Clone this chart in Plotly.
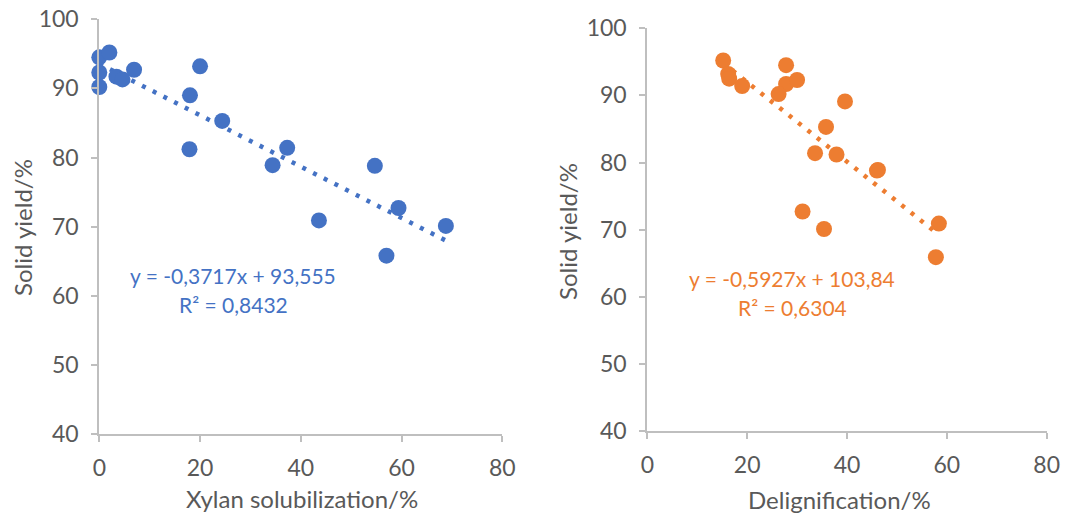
import numpy as np
import plotly.graph_objects as go

# Left panel: xylan solubilization vs solid yield
xylan_x = [0, 0, 0, 2.0, 3.4, 4.6, 6.9, 20.0, 18.0, 17.9, 24.4, 37.3, 34.4, 43.6, 54.7, 59.4, 57.0, 68.8]
xylan_y = [94.5, 92.3, 90.2, 95.2, 91.7, 91.3, 92.7, 93.2, 89.0, 81.2, 85.3, 81.4, 78.9, 70.9, 78.8, 72.7, 65.8, 70.1]
xylan_slope, xylan_intercept = -0.3717, 93.555
xylan_eq = "y = -0,3717x + 93,555"
xylan_r2 = "R² = 0,8432"

# Right panel: delignification vs solid yield
delig_x = [15.2, 16.2, 16.4, 19.0, 27.8, 27.8, 30.0, 26.3, 39.6, 35.8, 33.6, 37.9, 46.2, 46.0, 31.1, 35.4, 58.4, 57.8]
delig_y = [95.2, 93.2, 92.5, 91.4, 94.5, 91.7, 92.3, 90.2, 89.1, 85.3, 81.4, 81.2, 78.9, 78.8, 72.7, 70.1, 70.9, 65.9]
delig_slope, delig_intercept = -0.5927, 103.84
delig_eq = "y = -0,5927x + 103,84"
delig_r2 = "R² = 0,6304"

x_ticks = [0, 20, 40, 60, 80]
y_ticks = [40, 50, 60, 70, 80, 90, 100]

BLUE = "#4472C4"
ORANGE = "#ED7D31"
AXIS = "#BFBFBF"
TXT = "#595959"
FONT = "Lato"

fig = go.Figure()

def add_panel(xs, ys, slope, intercept, color, xa, ya):
    xmin, xmax = min(xs), max(xs)
    tx = [xmin, xmax]
    ty = [slope * v + intercept for v in tx]
    fig.add_trace(go.Scatter(x=tx, y=ty, mode="lines", xaxis=xa, yaxis=ya,
                             line=dict(color=color, width=4.5, dash="4px,8px"),
                             showlegend=False, hoverinfo="skip", cliponaxis=False))
    fig.add_trace(go.Scatter(x=xs, y=ys, mode="markers", xaxis=xa, yaxis=ya,
                             marker=dict(color=color, size=16, line=dict(width=0)),
                             showlegend=False, cliponaxis=False))

add_panel(xylan_x, xylan_y, xylan_slope, xylan_intercept, BLUE, "x", "y")
add_panel(delig_x, delig_y, delig_slope, delig_intercept, ORANGE, "x2", "y2")

W, H = 1067, 515

def xax(domain, anchor):
    return dict(domain=domain, anchor=anchor, range=[0, 80], tickvals=x_ticks,
                showgrid=False, zeroline=False, showline=True, linecolor=AXIS, linewidth=2,
                ticks="outside", ticklen=6, tickcolor=AXIS, tickwidth=2, automargin=False,
                tickfont=dict(family=FONT, size=23, color=TXT), ticklabelstandoff=6)

def yax(domain, anchor):
    return dict(domain=domain, anchor=anchor, range=[40, 100], tickvals=y_ticks,
                showgrid=False, zeroline=False, showline=True, linecolor=AXIS, linewidth=2,
                ticks="outside", ticklen=6, tickcolor=AXIS, tickwidth=2, automargin=False,
                tickfont=dict(family=FONT, size=23, color=TXT), ticklabelstandoff=8)

fig.update_layout(
    width=W, height=H, margin=dict(l=0, r=0, t=0, b=0, autoexpand=False),
    paper_bgcolor="white", plot_bgcolor="white",
    xaxis=xax([99.3 / W, 502.3 / W], "y"),
    yaxis=yax([81 / H, 495.7 / H], "x"),
    xaxis2=xax([647.3 / W, 1046.7 / W], "y2"),
    yaxis2=yax([84 / H, 486.7 / H], "x2"),
)

def ann(text, x, y, size, color, angle=0):
    fig.add_annotation(text=text, x=x / W, y=1 - y / H, xref="paper", yref="paper",
                       showarrow=False, xanchor="center", yanchor="middle",
                       textangle=angle, font=dict(family=FONT, size=size, color=color))

ann("Solid yield/%", 22, 228, 24, TXT, -90)
ann("Solid yield/%", 567, 232, 24, TXT, -90)
ann("Xylan solubilization/%", 302, 498, 24, TXT)
ann("Delignification/%", 839, 499, 24, TXT)
ann(xylan_eq, 233, 275, 21, BLUE)
ann(xylan_r2, 233, 304, 21, BLUE)
ann(delig_eq, 792, 278, 21, ORANGE)
ann(delig_r2, 792, 307, 21, ORANGE)

fig.write_html("out.html", config={"displayModeBar": False},
               post_script="document.body.style.margin='0';document.body.style.overflow='hidden';")
